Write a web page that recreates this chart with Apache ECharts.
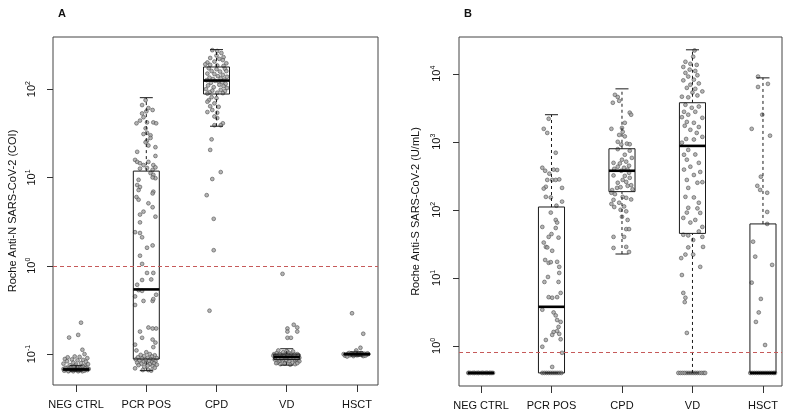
<!DOCTYPE html>
<html><head><meta charset="utf-8">
<script src="https://cdn.jsdelivr.net/npm/echarts@6/dist/echarts.min.js"></script>
<style>html,body{margin:0;padding:0;background:#fff}#c{width:787px;height:417px}</style>
</head><body><div id="c"></div>
<script>
const categories = ['NEG CTRL', 'PCR POS', 'CPD', 'VD', 'HSCT'];
const panelTitles = ['A', 'B'];
const yNames = ['Roche Anti-N SARS-CoV-2 (COI)', 'Roche Anti-S SARS-CoV-2 (U/mL)'];
const yTicksA = [0.1, 1, 10, 100];
const yTicksB = [1, 10, 100, 1000, 10000];
const thresholdA = 1.0;
const thresholdB = 0.8;
// box statistics: [lower whisker, Q1, median, Q3, upper whisker]
const boxA = [
  [0.064, 0.066, 0.067, 0.069, 0.074],
  [0.065, 0.088, 0.54, 11.8, 80],
  [38, 88, 125, 178, 280],
  [0.075, 0.087, 0.093, 0.1, 0.115],
  [0.095, 0.098, 0.1, 0.102, 0.106]
];
const boxB = [
  [0.4, 0.4, 0.4, 0.4, 0.4],
  [0.4, 0.4, 3.75, 110, 2500],
  [22.4, 185, 375, 790, 6000],
  [0.4, 45, 870, 3750, 22500],
  [0.4, 0.4, 0.4, 62, 8700]
];
// points: [horizontal jitter (category units), value]
const a_neg = [[0.07,0.227],[0.03,0.165],[-0.1,0.154],[0.09,0.112],[0.12,0.1],[-0.12,0.092],[-0.02,0.094],[0.05,0.093],[0.16,0.09],[-0.16,0.088],[-0.06,0.087],[0.1,0.086],[0.02,0.085],[-0.13,0.083],[0.14,0.082],[-0.04,0.08],[0.07,0.079],[-0.18,0.078],[0.17,0.077],[0,0.076],[-0.09,0.075],[0.12,0.074],
  [-0.18,0.068],[-0.15,0.066],[-0.12,0.067],[-0.1,0.065],[-0.08,0.068],[-0.06,0.066],[-0.04,0.064],[-0.02,0.067],[0,0.066],[0.02,0.068],[0.04,0.065],[0.06,0.067],[0.08,0.066],[0.1,0.068],[0.12,0.065],[0.14,0.067],[0.16,0.066],[0.18,0.068],[-0.17,0.065],[-0.13,0.07],[-0.07,0.071],[-0.01,0.07],[0.05,0.07],[0.11,0.071],[0.15,0.07],[-0.11,0.064],[0.03,0.064],[0.09,0.064],[-0.05,0.069],[0.07,0.069],[0.13,0.069],[-0.15,0.07],[0.01,0.072],[-0.03,0.073],[0.09,0.073]];
const a_pcr = [[-0.01,75],[-0.06,66],[0.03,61],[0,56],[-0.06,53],[-0.04,48],[0.09,58],[-0.14,41],[0.01,42],[0.1,42],[0.14,41],[-0.09,44],[-0.01,36],[0.01,32],[-0.04,31],[0.06,30],[0.01,26],[-0.01,25],[0.03,23],[0.06,28],[-0.13,19.5],[0.13,22],[0.13,17.5],[-0.16,15.8],[-0.13,15],[-0.09,14.5],[-0.04,13.8],[0.03,15],[0.1,13.8],[0.01,12.8],[-0.09,12.6],[0.09,12.2],[0.13,13],
  [0.06,11.2],[0.1,10.7],[0.13,9.8],[0.09,10],[-0.11,9.4],[-0.13,8.2],[-0.09,7.8],[-0.11,7.2],[0.1,6.9],[0.09,6.6],[-0.14,6],[-0.11,5.6],[0.03,5.1],[0.09,4.6],[-0.04,4.1],[-0.09,3.8],[0.13,3.6],[-0.09,3.1],[-0.16,2.4],[-0.09,2.35],[-0.06,2.1],[0.01,1.6],[0.09,1.7],[-0.09,1.3],[-0.06,1.05],[0.01,0.83],[0.1,0.83],[-0.06,0.69],[0.07,0.7],[-0.13,0.61],[-0.11,0.53],[-0.06,0.52],[-0.16,0.45],[0.14,0.47],[-0.04,0.4],[0.09,0.4],[0.1,0.42],[-0.16,0.36],
  [-0.09,0.18],[0.03,0.2],[0.09,0.195],[0.14,0.195],[-0.06,0.153],[0.09,0.146],[0.13,0.135],[-0.16,0.128],[0.1,0.12],
  [-0.14,0.11],[0,0.105],[0.05,0.1],[-0.08,0.098],[0.12,0.097],[-0.03,0.095],[0.08,0.094],[-0.12,0.092],[0.02,0.091],[0.15,0.09],[-0.06,0.089],[0.06,0.088],[-0.15,0.087],[-0.01,0.086],[0.1,0.086],[-0.1,0.085],[0.04,0.084],[0.13,0.083],[-0.04,0.082],[0.08,0.081],[-0.13,0.08],[0,0.08],[0.11,0.079],[-0.07,0.078],[0.05,0.077],[0.15,0.076],[-0.11,0.075],[0.02,0.074],[0.09,0.073],[-0.03,0.072],[-0.16,0.069],[-0.05,0.066],[0.03,0.066],[0.07,0.065],[0.12,0.07]];
const a_cpd = [[-0.06,276],[0.01,270],[0.07,256],[0,240],[0.1,230],[-0.09,225],[0.04,220],[0.09,213],[-0.13,200],[-0.03,205],[0.14,196],[-0.16,191],[-0.09,188],[0.01,185],[0.1,183],
  [-0.11,172],[0,168],[0.12,170],[-0.07,160],[0.05,158],[0.14,160],[-0.13,150],[-0.03,148],[0.09,145],[0.02,140],[-0.1,135],[0.15,138],[0.06,132],[-0.05,130],[0.11,128],[-0.14,126],[-0.02,124],[0.03,122],[0.08,120],[-0.08,118],[0.13,115],[-0.12,110],[0.04,112],[0.1,108],[-0.04,105],[0.15,103],[-0.15,100],[0.06,98],[-0.06,96],[0.12,95],[-0.1,92],[0.01,91],[0.09,90],[-0.13,89],
  [-0.07,81],[0,79],[-0.11,75],[-0.13,72],[-0.03,69],[-0.09,64],[0.03,63],[-0.06,58],[-0.13,55],[0.01,54],[-0.03,49],[0.01,47],[0.09,41],[-0.03,39],[0.06,39],
  [-0.07,27],[-0.09,20.5],[0.06,11.5],[-0.06,9.6],[-0.14,6.3],[-0.04,3.4],[-0.04,1.5],[-0.1,0.31]];
const a_vd = [[-0.06,0.81],[0.1,0.215],[0.01,0.195],[0.15,0.2],[0.01,0.18],[0.15,0.18],[0.01,0.153],[0.06,0.153],
  [-0.18,0.1],[-0.15,0.095],[-0.12,0.09],[-0.09,0.098],[-0.06,0.085],[-0.03,0.1],[0,0.092],[0.03,0.088],[0.06,0.097],[0.09,0.094],[0.12,0.086],[0.15,0.1],[0.18,0.091],
  [-0.17,0.087],[-0.14,0.103],[-0.11,0.082],[-0.08,0.093],[-0.05,0.105],[-0.02,0.08],[0.01,0.1],[0.04,0.083],[0.07,0.102],[0.1,0.09],[0.13,0.095],[0.16,0.084],
  [-0.16,0.093],[-0.13,0.08],[-0.1,0.1],[-0.07,0.089],[-0.04,0.094],[-0.01,0.086],[0.02,0.105],[0.05,0.091],[0.08,0.08],[0.11,0.099],[0.14,0.088],[0.17,0.097],
  [-0.19,0.096],[-0.12,0.11],[-0.03,0.078],[0.05,0.076],[0.12,0.077],[-0.09,0.077],[0,0.108],[0.09,0.107],[0.18,0.083],[-0.15,0.079],[0.15,0.079]];
const a_hsct = [[-0.07,0.29],[0.09,0.17],[0.05,0.118],[-0.01,0.11],
  [-0.19,0.1],[-0.16,0.098],[-0.13,0.101],[-0.1,0.097],[-0.07,0.1],[-0.04,0.099],[-0.01,0.102],[0.02,0.098],[0.05,0.1],[0.08,0.097],[0.11,0.101],[0.14,0.099],[0.16,0.1],[-0.17,0.096],[-0.11,0.103],[-0.05,0.095],[0,0.097],[0.06,0.103],[0.12,0.096],[-0.14,0.094],[-0.02,0.104],[0.09,0.095],[0.03,0.101],[-0.08,0.102],[0.15,0.102]];
const b_neg = [[-0.18,0.4],[-0.15,0.4],[-0.12,0.4],[-0.09,0.4],[-0.06,0.4],[-0.03,0.4],[0,0.4],[0.03,0.4],[0.06,0.4],[0.09,0.4],[0.12,0.4],[0.15,0.4],[0.17,0.4],[-0.17,0.4],[-0.1,0.4],[-0.04,0.4],[0.02,0.4],[0.08,0.4],[0.13,0.4]];
const b_pcr = [[-0.04,2180],[-0.11,1550],[-0.06,1350],[0.06,690],[-0.13,415],[-0.09,375],[0.03,390],[0.08,385],[-0.03,340],[-0.06,275],[0.01,275],[0.06,275],[0.11,280],[-0.08,218],[-0.11,205],[0.15,210],[-0.08,155],[-0.01,152],[0.15,132],[0.07,115],
  [-0.01,91],[0.06,71],[0.08,65],[0.06,54],[-0.13,56],[0,44],[-0.04,40],[0.1,39],[-0.11,33],[-0.08,28.5],[-0.06,28],[0.01,25],[-0.09,18.3],[-0.04,16.6],[-0.01,17],[0.08,17.2],[0.11,14.5],[0.11,11.8],[-0.05,10.3],[-0.1,8.7],[0.1,8.7],[-0.04,5.2],[0.01,5.1],[0.08,5.2],[0.13,6],
  [-0.13,3.4],[0.03,3.1],[0.06,2.8],[0.08,2.4],[0.13,2.25],[0.1,1.9],[0.03,1.6],[0.08,1.65],[0.01,1.45],[0.11,1.5],[-0.08,1.22],[0.13,1.25],[-0.13,0.97],[0.15,0.79],[0.01,0.49],
  [-0.13,0.4],[-0.1,0.4],[-0.07,0.4],[-0.04,0.4],[-0.01,0.4],[0.02,0.4],[0.05,0.4],[0.08,0.4],[0.11,0.4],[0.14,0.4]];
const b_cpd = [[-0.1,4900],[-0.06,4550],[-0.13,3750],[-0.04,4000],[0.11,2680],[0.13,2500],[0.04,1900],[-0.15,1550],[0,1600],[0.01,1400],[-0.04,1260],[0.04,1200],[-0.06,1000],[-0.01,910],[0.07,940],[0.11,920],
  [-0.06,780],[0.11,740],[0.04,645],[0.14,580],[0,545],[0.06,510],[-0.12,490],[-0.03,480],[0.1,445],[-0.06,430],[0.03,415],[-0.11,400],[0.08,390],[-0.01,375],[0.1,350],[0.04,315],[-0.12,320],[0.11,295],[0.01,275],[0.06,257],[-0.06,250],[0.08,225],[0.13,230],[-0.07,210],[-0.02,215],[0.15,200],[-0.14,195],
  [-0.15,178],[-0.1,170],[0.01,155],[0.06,150],[-0.12,140],[0.13,142],[-0.04,127],[-0.15,122],[-0.11,110],[0.03,112],[-0.02,100],[0.06,95],[0,79],[0.08,71],[0.06,52],[0.1,52],[-0.12,40],[0.03,40],[0.06,28.5],[-0.12,27.5],[0.1,24]];
const b_vd = [[0.03,22000],[0.01,17800],[-0.1,15000],[-0.03,14000],[0.06,13500],[-0.13,12600],[-0.04,11500],[0.04,11000],[-0.1,10300],[-0.06,9100],[0.07,9500],[0.02,8200],[-0.13,8000],[-0.03,6900],[0.09,7200],[-0.08,6200],[0.04,6000],[0.14,5500],[0,5300],[-0.15,4600],[-0.06,4500],[0.07,4800],
  [-0.1,3500],[-0.01,3160],[0.09,3300],[-0.12,2760],[0.04,2760],[-0.06,2500],[0.14,2250],[-0.15,2300],[-0.08,1960],[0.02,1900],[-0.11,1720],[0.09,1650],[-0.03,1500],[0.06,1350],[0.14,1180],[-0.09,1100],[0.02,1080],[-0.15,970],[-0.06,760],[-0.12,645],[0.04,650],[-0.08,545],[0.09,490],[-0.03,430],[-0.12,390],[0.11,360],[0.02,325],[-0.08,275],[0.07,250],[0.14,255],[-0.06,210],[-0.1,155],[0.02,152],[0.09,127],[-0.06,107],[0.07,105],[-0.08,91],[0.11,90],[-0.13,76],[0.04,71],[-0.03,65],[0.14,56],[0.09,48],
  [-0.13,43],[-0.06,42],[0.01,36],[0.14,40],[0.15,28.5],[-0.06,28],[-0.1,22],[0.01,22],[-0.16,19.5],[0.11,14.5],[-0.15,11],[-0.13,6],[-0.1,5.1],[-0.11,4.4],[-0.08,1.55],
  [-0.2,0.4],[-0.17,0.4],[-0.14,0.4],[-0.11,0.4],[-0.08,0.4],[-0.05,0.4],[-0.02,0.4],[0.01,0.4],[0.04,0.4],[0.07,0.4],[0.1,0.4],[0.13,0.4],[0.16,0.4],[0.18,0.4]];
const b_hsct = [[-0.07,9100],[0.07,7100],[-0.07,6400],[-0.01,2500],[-0.16,1550],[0.1,1230],[-0.03,307],[-0.08,225],[-0.04,196],[0.06,178],[0.06,93],[0.06,62],[-0.14,34],[-0.11,20.5],[0.13,15.5],[-0.16,8.5],[-0.03,4.9],[-0.06,3.1],[-0.1,2.25],[0.03,1.03],
  [-0.18,0.4],[-0.15,0.4],[-0.12,0.4],[-0.09,0.4],[-0.06,0.4],[-0.03,0.4],[0,0.4],[0.03,0.4],[0.06,0.4],[0.09,0.4],[0.12,0.4],[0.15,0.4],[0.17,0.4]];

const pointsA = [a_neg, a_pcr, a_cpd, a_vd, a_hsct];
const pointsB = [b_neg, b_pcr, b_cpd, b_vd, b_hsct];

const FONT = 'Liberation Sans, Arial, sans-serif';
const chart = echarts.init(document.getElementById('c'));

function flatPoints(groups) {
  const out = [];
  groups.forEach((g, i) => g.forEach(p => out.push([i + 1 + p[0], p[1]])));
  return out;
}
function boxData(stats) { return stats.map((s, i) => [i + 1].concat(s)); }

const HW = 0.185, CW = 0.0925;
function renderBox(params, api) {
  const x = api.value(0), lo = api.value(1), q1 = api.value(2), md = api.value(3), q3 = api.value(4), hi = api.value(5);
  const tl = api.coord([x - HW, q3]), br = api.coord([x + HW, q1]);
  const c = (a, b) => api.coord([a, b]);
  const solid = { stroke: '#1a1a1a', lineWidth: 1, fill: null };
  const dashed = { stroke: '#1a1a1a', lineWidth: 1, lineDash: [3, 3], fill: null };
  const line = (p1, p2, st) => ({ type: 'line', shape: { x1: p1[0], y1: p1[1], x2: p2[0], y2: p2[1] }, style: st });
  const ch = [];
  if (hi > q3) ch.push(line(c(x, q3), c(x, hi), dashed));
  if (lo < q1) ch.push(line(c(x, lo), c(x, q1), dashed));
  ch.push(line(c(x - CW, hi), c(x + CW, hi), solid));
  ch.push(line(c(x - CW, lo), c(x + CW, lo), solid));
  ch.push({ type: 'rect', shape: { x: tl[0], y: tl[1], width: br[0] - tl[0], height: Math.max(br[1] - tl[1], 0.5) }, style: solid });
  ch.push(line(c(x - HW, md), c(x + HW, md), { stroke: '#000', lineWidth: 2.6 }));
  return { type: 'group', children: ch };
}

const xRanges = [[0.671, 5.3], [0.688, 5.27]];
const yRanges = [[0.0447, 389], [0.257, 34700]];
const yTicks = [yTicksA, yTicksB];
const nameGaps = [35, 38];
const labelMargins = [14, 15];

const xAxes = [0, 1].map(k => ({
  type: 'value', gridIndex: k, min: xRanges[k][0], max: xRanges[k][1],
  splitLine: { show: false }, axisLine: { show: false },
  axisTick: { show: true, customValues: [1, 2, 3, 4, 5], length: 7, lineStyle: { color: '#333' } },
  axisLabel: { customValues: [1, 2, 3, 4, 5], formatter: v => categories[Math.round(v) - 1], margin: 14, fontSize: 11, color: '#111', fontFamily: FONT }
}));
const yAxes = [0, 1].map(k => ({
  type: 'log', logBase: 10, gridIndex: k, min: yRanges[k][0], max: yRanges[k][1],
  name: yNames[k], nameLocation: 'middle', nameRotate: 90, nameGap: nameGaps[k],
  nameTextStyle: { fontSize: 11, color: '#111', fontFamily: FONT },
  splitLine: { show: false }, axisLine: { show: false }, minorTick: { show: false },
  axisTick: { show: true, customValues: yTicks[k], length: 6, lineStyle: { color: '#333' } },
  axisLabel: {
    customValues: yTicks[k], rotate: 90, margin: labelMargins[k], color: '#111', fontFamily: FONT,
    formatter: v => '{b|10}{s|' + Math.round(Math.log10(v)) + '}',
    rich: { b: { fontSize: 11, lineHeight: 14, color: '#111', fontFamily: FONT }, s: { fontSize: 7, lineHeight: 8, verticalAlign: 'top', color: '#111', fontFamily: FONT } }
  }
}));

const series = [];
[[pointsA, boxA, thresholdA], [pointsB, boxB, thresholdB]].forEach((d, k) => {
  series.push({
    type: 'scatter', xAxisIndex: k, yAxisIndex: k, data: flatPoints(d[0]),
    symbol: 'circle', symbolSize: 3.8, z: 3,
    itemStyle: { color: '#a3a3a3', borderColor: '#474747', borderWidth: 0.7 },
    silent: true,
    markLine: {
      silent: true, symbol: 'none', label: { show: false },
      lineStyle: { color: '#c65a5a', type: [4, 3], width: 1 },
      data: [{ yAxis: d[2] }]
    }
  });
  series.push({
    type: 'custom', xAxisIndex: k, yAxisIndex: k, data: boxData(d[1]),
    renderItem: renderBox, z: 4, silent: true,
    encode: { x: 0, y: [1, 2, 3, 4, 5] }
  });
});

chart.setOption({
  animation: false,
  backgroundColor: '#fff',
  textStyle: { fontFamily: FONT },
  title: [
    { text: panelTitles[0], left: 53, top: 3, textStyle: { fontSize: 11, fontWeight: 'bold', color: '#111', fontFamily: FONT } },
    { text: panelTitles[1], left: 459, top: 3, textStyle: { fontSize: 11, fontWeight: 'bold', color: '#111', fontFamily: FONT } }
  ],
  grid: [
    { left: 53, right: 409, top: 37, bottom: 32, show: true, borderColor: '#444', borderWidth: 1, backgroundColor: 'transparent' },
    { left: 459, right: 5, top: 37, bottom: 31, show: true, borderColor: '#444', borderWidth: 1, backgroundColor: 'transparent' }
  ],
  xAxis: xAxes,
  yAxis: yAxes,
  series: series
});
</script>
</body></html>
